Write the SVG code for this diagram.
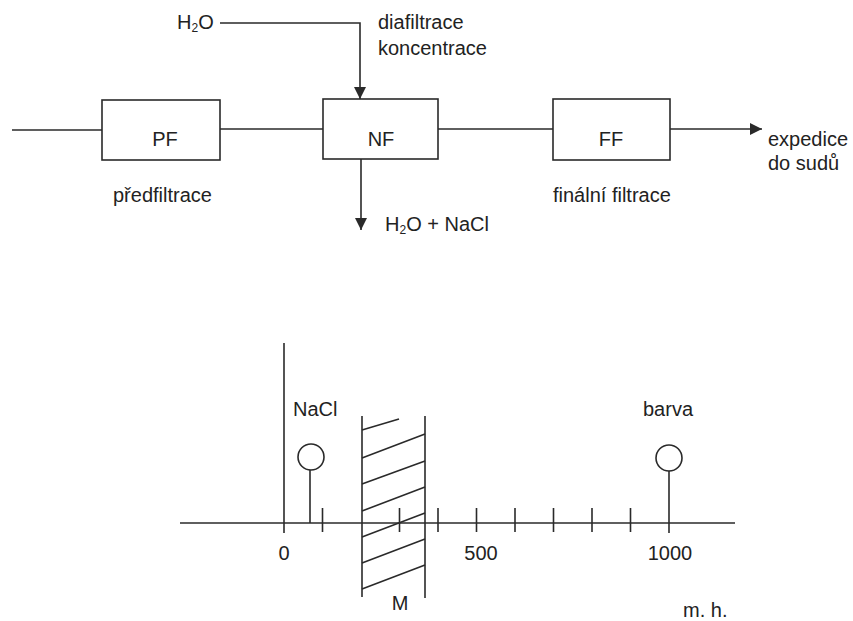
<svg xmlns="http://www.w3.org/2000/svg" width="853" height="621" viewBox="0 0 853 621">
  <style>
    .t { font-family: "Liberation Sans", Arial, sans-serif; font-size: 20px; fill: #222; }
    .m { text-anchor: middle; }
    .ln { stroke: #2a2a2a; stroke-width: 1.6; fill: none; }
    .box { stroke: #2a2a2a; stroke-width: 1.6; fill: none; }
  </style>
  <defs>
    <marker id="arr" viewBox="0 0 12 12" refX="12" refY="6" markerWidth="12" markerHeight="12" markerUnits="userSpaceOnUse" orient="auto">
      <path d="M0,0 L12,6 L0,12 Z" fill="#2a2a2a"/>
    </marker>
  </defs>
  <rect width="853" height="621" fill="#ffffff"/>

  <g id="connectors">
    <line class="ln" x1="12" y1="130" x2="102" y2="130"/>
    <line class="ln" x1="220" y1="129" x2="323" y2="129"/>
    <line class="ln" x1="438" y1="129" x2="553" y2="129"/>
    <line class="ln" x1="670" y1="129" x2="762" y2="129" marker-end="url(#arr)"/>
    <polyline class="ln" points="220,23 360,23 360,99" marker-end="url(#arr)"/>
    <line class="ln" x1="361" y1="159" x2="361" y2="230" marker-end="url(#arr)"/>
  </g>

  <g id="h2o-in">
    <text class="t" x="177" y="29">H<tspan font-size="12" dy="3">2</tspan><tspan dy="-3">O</tspan></text>
  </g>
  <g id="dia-label">
    <text class="t" x="378" y="29">diafiltrace</text>
    <text class="t" x="378" y="55">koncentrace</text>
  </g>

  <g id="PF">
    <rect class="box" x="102" y="100" width="118" height="60"/>
    <text class="t m" x="165" y="146">PF</text>
    <text class="t" x="113" y="202">předfiltrace</text>
  </g>
  <g id="NF">
    <rect class="box" x="323" y="99" width="115" height="60"/>
    <text class="t m" x="381" y="146">NF</text>
  </g>
  <g id="waste">
    <text class="t" x="385" y="231">H<tspan font-size="12" dy="3">2</tspan><tspan dy="-3">O + NaCl</tspan></text>
  </g>
  <g id="FF">
    <rect class="box" x="553" y="99" width="117" height="61"/>
    <text class="t m" x="611" y="146">FF</text>
    <text class="t" x="553" y="202">finální filtrace</text>
  </g>
  <g id="output">
    <text class="t" x="768" y="146">expedice</text>
    <text class="t" x="768" y="170">do sudů</text>
  </g>

  <g id="scale">
    <line class="ln" x1="180" y1="523" x2="735" y2="523"/>
    <line class="ln" x1="284" y1="343" x2="284" y2="533"/>
    <g class="ln">
      <line x1="322.5" y1="508" x2="322.5" y2="532"/>
      <line x1="399.5" y1="508" x2="399.5" y2="532"/>
      <line x1="438" y1="508" x2="438" y2="532"/>
      <line x1="476.5" y1="508" x2="476.5" y2="532"/>
      <line x1="515" y1="508" x2="515" y2="532"/>
      <line x1="553.5" y1="508" x2="553.5" y2="532"/>
      <line x1="592" y1="508" x2="592" y2="532"/>
      <line x1="630.5" y1="508" x2="630.5" y2="532"/>
    </g>
    <text class="t m" x="284" y="560">0</text>
    <text class="t m" x="481" y="560">500</text>
    <text class="t m" x="670" y="560">1000</text>
    <text class="t" x="683" y="617">m. h.</text>
  </g>

  <g id="NaCl">
    <circle class="ln" cx="311" cy="457" r="13"/>
    <line class="ln" x1="310" y1="470" x2="310" y2="523"/>
    <text class="t" x="293" y="416">NaCl</text>
  </g>
  <g id="barva">
    <circle class="ln" cx="669" cy="458" r="13"/>
    <line class="ln" x1="669" y1="471" x2="669" y2="533"/>
    <text class="t" x="643" y="416">barva</text>
  </g>

  <g id="membrane">
    <line class="ln" x1="362" y1="416" x2="362" y2="597"/>
    <line class="ln" x1="425" y1="416" x2="425" y2="598"/>
    <g class="ln">
      <line x1="362" y1="430" x2="399" y2="419"/>
      <line x1="362" y1="458" x2="425" y2="434"/>
      <line x1="362" y1="484" x2="425" y2="461"/>
      <line x1="362" y1="511" x2="425" y2="487"/>
      <line x1="362" y1="537" x2="425" y2="513"/>
      <line x1="362" y1="563" x2="425" y2="539"/>
      <line x1="362" y1="589" x2="425" y2="565"/>
    </g>
    <text class="t m" x="400" y="610">M</text>
  </g>
</svg>
